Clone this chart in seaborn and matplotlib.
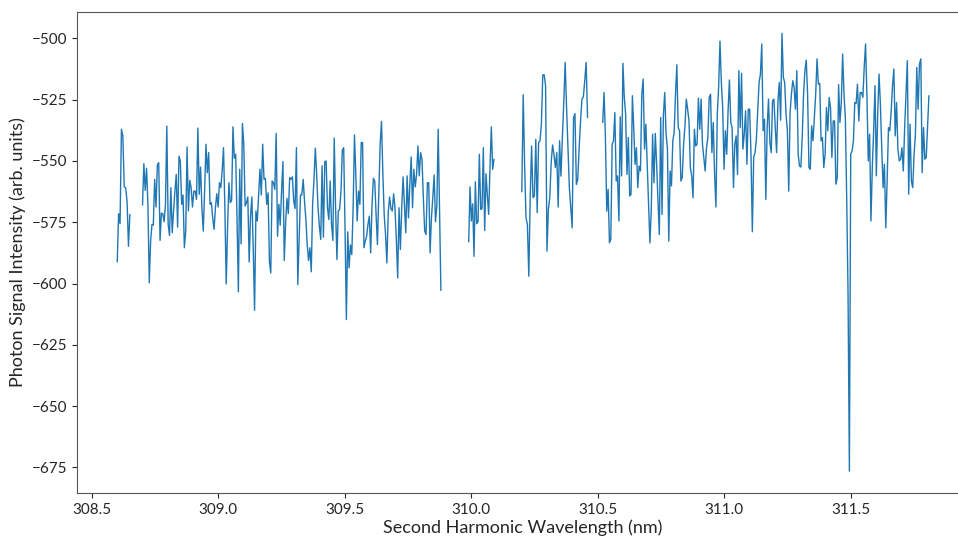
import numpy as np
import pandas as pd
import matplotlib
matplotlib.use("Agg")
import matplotlib.pyplot as plt
import seaborn as sns

# wavelength windows (nm) of each scan chunk
seg_bounds = [
    (308.60, 308.65),
    (308.70, 309.88),
    (309.99, 310.09),
    (310.20, 310.46),
    (310.52, 311.81),
]

# photon signal, one list per chunk
sig_a = [-591.2, -571.5, -575.6, -537.1, -539.8, -560.6, -560.9, -566.4, -584.8, -571.8]

sig_b = [
    -568.0, -551.1, -562.0, -553.0, -567.7, -599.7, -582.7, -575.9, -576.2, -557.5,
    -568.8, -551.6, -550.7, -582.4, -571.3, -571.5, -574.8, -567.7, -535.8, -575.9,
    -580.4, -560.9, -579.3, -570.4, -562.3, -555.5, -577.0, -548.1, -550.0, -567.7,
    -563.9, -585.4, -578.6, -544.3,
    -570.4, -557.9, -560.9, -568.8, -562.3, -562.3, -565.7, -536.6, -563.6, -552.5,
    -569.1, -578.6, -562.3, -543.2, -554.8, -546.6, -567.7, -567.0, -573.2, -577.9,
    -569.1, -563.4, -568.8, -558.9, -560.9, -554.1, -544.6, -569.1, -600.2, -577.3,
    -558.9, -567.0, -566.1, -536.1, -548.9, -547.3, -573.2, -603.4, -553.4, -583.8,
    -534.7, -543.2, -568.4, -567.0, -564.7, -591.2, -572.5, -564.7, -585.4, -610.9,
    -570.4, -574.5, -564.3, -553.4, -563.9, -543.2, -557.5,
    -557.1, -567.7, -563.0, -590.9, -595.7, -558.2, -558.9, -561.6, -538.8, -580.7,
    -567.7, -576.2, -562.3, -550.3, -590.6, -575.2, -565.3, -571.5, -556.8, -557.5,
    -556.5, -566.4, -569.4, -544.6, -600.4, -582.7, -563.9, -563.9, -557.5, -566.4,
    -573.9, -584.3, -590.6, -585.4, -595.2, -567.7, -557.5, -544.8, -555.5, -569.1,
    -576.6, -582.0, -552.0, -581.1, -550.3, -550.0, -569.1, -573.9, -558.2, -575.9,
    -582.4, -540.7, -569.1, -590.2, -570.4, -569.8, -562.3,
    -545.6, -544.6, -577.3, -614.7, -578.9, -593.6, -584.3, -588.2, -569.1, -539.4,
    -555.5, -574.5, -562.3, -567.7, -542.5, -542.5, -585.4, -582.7, -580.7, -575.9,
    -572.5, -587.5, -567.7, -557.1, -558.2, -571.8, -584.1, -563.6, -543.2, -533.9,
    -554.8, -571.8, -580.0, -591.6, -571.1, -564.7, -569.4, -570.4, -563.4, -569.1,
    -582.0, -597.7, -569.1, -586.1, -569.1, -556.5, -567.7, -579.3, -556.1, -573.2,
    -559.5, -548.4, -569.1, -553.4, -560.6, -555.5,
    -543.9, -556.1, -546.6, -549.3, -565.0, -578.6, -580.0, -558.9, -558.9, -587.5,
    -573.2, -565.0, -555.7, -574.8, -568.4, -537.1, -569.8, -602.8,
]

sig_c = [
    -583.0, -560.6, -574.5, -567.5, -588.9, -558.5, -575.6, -574.8, -547.3, -569.8,
    -569.4, -544.6, -578.4, -555.2, -563.9, -571.8, -552.7, -536.1, -553.4, -549.3,
]

sig_d = [
    -562.6, -523.0, -551.4, -573.2, -575.9, -597.0, -565.0, -543.9, -565.0, -564.3,
    -541.2, -571.1, -542.5, -541.8, -535.0, -514.9, -514.9, -519.4, -586.8, -569.8,
    -565.0, -550.7, -543.5, -547.3, -552.7, -546.6, -568.8, -541.8, -556.2, -540.5,
    -526.2, -509.8, -528.2, -544.6, -560.9, -569.1, -577.3, -532.3, -530.7, -559.6,
    -557.5, -544.6, -533.7, -524.8, -523.9, -517.3, -509.8, -532.3,
]

sig_e = [
    -534.3, -522.1, -540.5, -570.5, -561.6, -583.4, -582.0, -543.2, -541.8, -530.3,
    -558.2, -556.1, -574.5, -532.0, -556.1, -510.2, -524.1, -530.9, -555.5, -540.5,
    -564.3, -563.6, -523.4, -536.4, -551.4, -544.6, -560.9, -552.1, -554.1, -522.8,
    -516.6, -545.2, -535.0, -551.4, -567.7, -583.4, -570.5, -539.1, -558.9, -538.8,
    -551.4, -566.4, -580.0, -532.3, -571.8, -531.6, -522.1, -539.1, -544.6, -582.7,
    -554.1, -560.2, -541.8, -538.4, -522.8, -510.8, -536.4, -537.7, -558.2, -556.8,
    -543.2, -535.7, -524.8, -528.9, -533.7, -552.7, -556.1, -565.0, -537.1, -543.9,
    -543.2, -524.4, -537.1, -524.8, -543.2, -548.6, -554.1, -544.6, -540.5, -524.1,
    -522.8, -546.6, -534.3, -555.5, -568.8, -530.9, -520.0, -501.2, -518.0, -528.2,
    -553.4, -537.7, -547.3, -529.6, -517.0, -534.3, -536.4, -560.9, -543.2, -539.8,
    -555.5, -513.2, -536.4, -514.3, -545.2, -539.1, -529.6, -551.4, -528.9, -528.9,
    -547.3, -578.9, -548.6, -546.6, -541.2, -529.6, -518.0, -514.6, -502.3, -537.7,
    -533.0, -565.7, -536.4, -524.8, -542.5, -546.6, -525.5, -524.8, -536.4, -546.6,
    -525.5, -518.0,
    -533.4, -498.0, -515.9, -518.0, -530.9, -537.7, -562.3, -530.3, -522.8, -517.3,
    -520.0, -528.9, -513.2, -547.3, -552.1, -552.5, -540.5, -522.8, -513.2, -508.9,
    -522.8, -552.7, -553.4, -535.7, -541.8, -532.3, -522.8, -508.4, -518.7, -518.4,
    -541.8, -540.5, -552.7, -547.3, -528.2, -537.7, -524.1, -528.2, -548.6, -533.7,
    -533.7, -559.5, -556.8, -518.9, -534.3, -526.2, -506.4, -522.8, -532.3, -565.0,
    -604.0, -676.5, -547.3, -545.9, -541.8, -526.2, -526.6, -518.7, -533.7, -522.1,
    -522.1, -524.1, -511.9, -502.3, -522.8, -550.0, -539.1, -574.5, -552.7, -537.7,
    -519.3, -556.1, -530.9, -514.6, -526.8, -544.6, -560.9, -551.4, -577.3, -558.2,
    -536.4, -537.7, -529.6, -519.3, -512.5, -539.8, -526.2, -545.2, -550.0, -549.3,
    -544.6, -554.1, -536.4, -522.8, -509.1, -563.6, -535.0, -558.2, -560.9, -547.3,
    -539.1, -511.9, -528.9, -510.5, -508.4, -554.8, -536.4, -549.3, -548.6, -536.4,
    -523.4,
]

signals = [sig_a, sig_b, sig_c, sig_d, sig_e]

frames = []
for i, ((lo, hi), sig) in enumerate(zip(seg_bounds, signals)):
    frames.append(pd.DataFrame({
        "wavelength": np.linspace(lo, hi, len(sig)),
        "signal": sig,
        "chunk": i,
    }))
df = pd.concat(frames, ignore_index=True)

sns.set_style("ticks")
plt.rcParams["font.family"] = ["Lato", "DejaVu Sans"]

fig = plt.figure(figsize=(9.58, 5.38), dpi=100)
ax = fig.add_axes([0.080, 0.0836, 0.932, 0.895])

sns.lineplot(data=df, x="wavelength", y="signal", units="chunk", estimator=None,
             color="#1f77b4", linewidth=1.0, ax=ax)

ax.set_xlabel("Second Harmonic Wavelength (nm)", fontsize=13, labelpad=2)
ax.set_ylabel("Photon Signal Intensity (arb. units)", fontsize=13)
ax.tick_params(labelsize=11)
ax.set_xticks([308.5, 309.0, 309.5, 310.0, 310.5, 311.0, 311.5])
ax.set_yticks([-675, -650, -625, -600, -575, -550, -525, -500])
for s in ax.spines.values():
    s.set_color("#555555")
    s.set_linewidth(0.8)
sns.despine(ax=ax, top=False, right=False)

fig.savefig("out.png", dpi=100)
